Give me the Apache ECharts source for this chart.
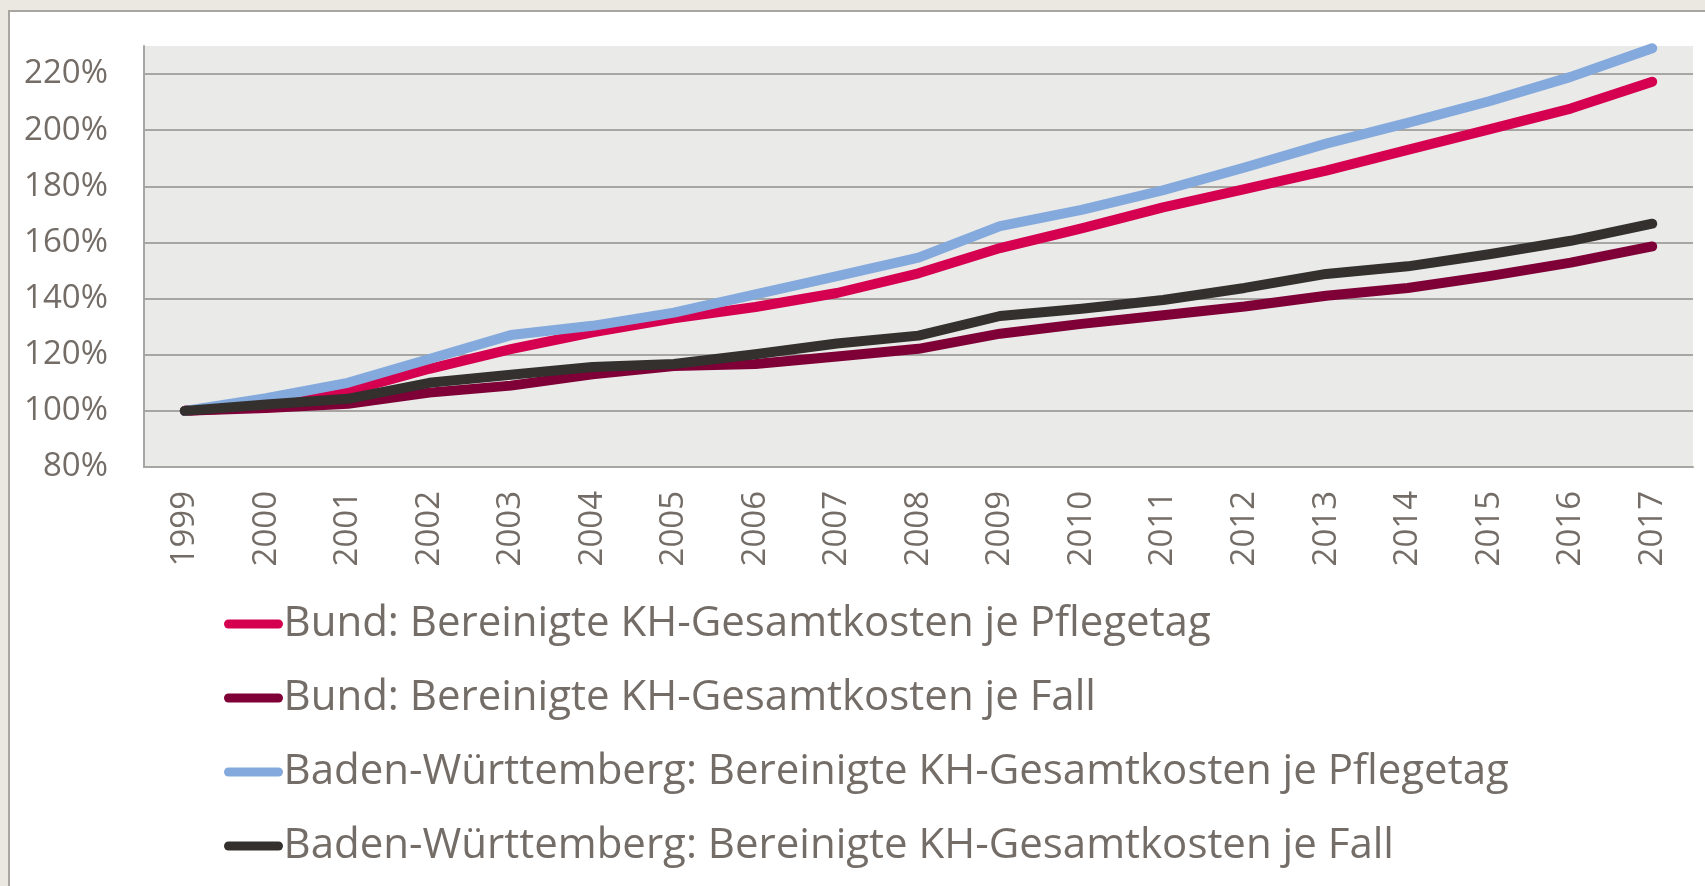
<!DOCTYPE html>
<html>
<head>
<meta charset="utf-8">
<script src="https://cdn.jsdelivr.net/npm/echarts@6/dist/echarts.min.js"></script>
<style>
  html, body { margin: 0; padding: 0; width: 1705px; height: 886px; background: #ebe8e2; overflow: hidden; }
  #panel { position: absolute; left: 8px; top: 10px; width: 1710px; height: 890px; background: #fff; border: 2px solid #a9a6a1; }
  #main { position: absolute; left: 0; top: 0; width: 1705px; height: 886px; }
</style>
</head>
<body>
<div id="panel"></div>
<div id="main"></div>
<script>
const years = ['1999', '2000', '2001', '2002', '2003', '2004', '2005', '2006', '2007', '2008',
    '2009', '2010', '2011', '2012', '2013', '2014', '2015', '2016', '2017'];

const bundPflegetag = [100, 101.5, 107, 115, 122, 128, 133, 137, 142, 149,
    158, 165, 172.5, 179, 185.6, 193, 200.3, 207.7, 217.3];
const bundFall = [100, 101, 102.5, 106.5, 109, 113, 116, 116.7, 119.4, 122.1,
    127.5, 131, 134.1, 137.2, 141, 143.8, 148, 152.8, 158.6];
const bwPflegetag = [100, 104.5, 110, 118.5, 127, 130.3, 135, 141.5, 148, 154.6,
    165.8, 171.6, 178.6, 186.7, 195.2, 202.6, 210.3, 219, 229.2];
const bwFall = [100, 102.3, 104.3, 110, 112.9, 115.6, 116.7, 120.2, 124, 126.8,
    133.8, 136.4, 139.5, 143.8, 148.8, 151.5, 155.8, 160.6, 166.7];

const seriesNames = [
    'Bund: Bereinigte KH-Gesamtkosten je Pflegetag',
    'Bund: Bereinigte KH-Gesamtkosten je Fall',
    'Baden-Württemberg: Bereinigte KH-Gesamtkosten je Pflegetag',
    'Baden-Württemberg: Bereinigte KH-Gesamtkosten je Fall'
];
const seriesColors = ['#d50050', '#7e0036', '#84a9dc', '#33302d'];
const seriesData = [bundPflegetag, bundFall, bwPflegetag, bwFall];

const textColor = '#746d67';
const gridColor = '#a8a6a3';
const fontFamily = '"Open Sans", sans-serif';

const myChart = echarts.init(document.getElementById('main'));

const option = {
    animation: false,
    grid: {
        left: 144,
        top: 46,
        right: 12,
        bottom: 419,
        show: true,
        backgroundColor: '#eaeae8',
        borderWidth: 0
    },
    legend: {
        orient: 'vertical',
        left: 219,
        top: 598,
        itemWidth: 50,
        itemHeight: 14,
        itemGap: 32,
        lineStyle: { width: 9, cap: 'round' },
        itemStyle: { opacity: 0 },
        textStyle: { color: textColor, fontSize: 42, fontFamily: fontFamily },
        data: seriesNames
    },
    xAxis: {
        type: 'category',
        data: years,
        boundaryGap: true,
        axisLine: { lineStyle: { color: gridColor, width: 2 } },
        axisTick: { inside: true, length: 12, lineStyle: { color: gridColor, width: 2 } },
        axisLabel: {
            rotate: 90,
            margin: 24,
            color: textColor,
            fontSize: 33,
            fontFamily: fontFamily
        }
    },
    yAxis: {
        type: 'value',
        min: 80,
        max: 230,
        interval: 20,
        axisLine: { show: true, lineStyle: { color: gridColor, width: 2 } },
        axisTick: { show: false },
        axisLabel: {
            margin: 36,
            color: textColor,
            fontSize: 33,
            fontFamily: fontFamily,
            showMaxLabel: false,
            formatter: function (v) { return v % 20 === 0 ? v + '%' : ''; }
        },
        splitLine: {
            lineStyle: {
                width: 2,
                color: [gridColor, gridColor, gridColor, gridColor, gridColor,
                    gridColor, gridColor, gridColor, 'rgba(0,0,0,0)']
            }
        }
    },
    series: seriesData.map(function (d, i) {
        return {
            name: seriesNames[i],
            type: 'line',
            data: d,
            symbol: 'none',
            color: seriesColors[i],
            lineStyle: { width: 10, cap: 'round', join: 'round', color: seriesColors[i] }
        };
    })
};

myChart.setOption(option);
</script>
</body>
</html>
